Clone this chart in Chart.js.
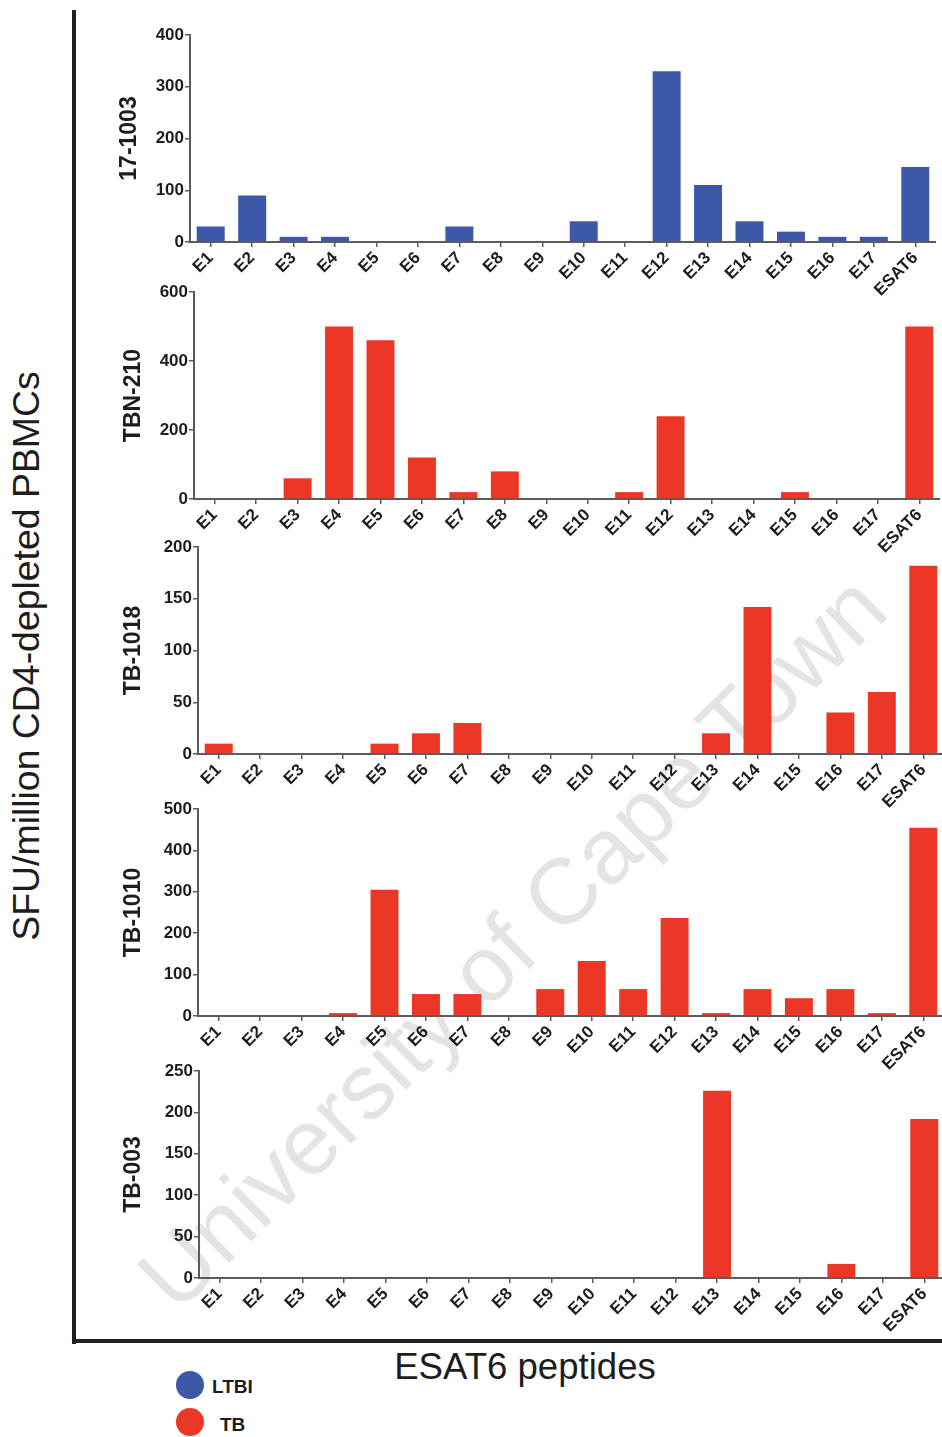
<!DOCTYPE html>
<html>
<head>
<meta charset="utf-8">
<script src="https://cdn.jsdelivr.net/npm/chart.js@4.4.1/dist/chart.umd.min.js"></script>
<style>
  html, body { margin:0; padding:0; width:942px; height:1437px; overflow:hidden; background:#ffffff; }
  body { position:relative; font-family:"Liberation Sans", Arial, Helvetica, sans-serif; color:#1e1c1d; }
  #wm { position:absolute; left:512px; top:942px; transform:translate(-50%,-50%) rotate(-44.4deg);
        font-size:93px; line-height:1; white-space:nowrap; color:#e4e4e4; font-weight:normal; }
  canvas.panel { position:absolute; }
  #frameV { position:absolute; left:72px; top:10px; width:4px; height:1334px; background:#231f20; }
  #frameH { position:absolute; left:72px; top:1339px; width:872px; height:4px; background:#231f20; }
  #ytitle { position:absolute; left:27px; top:656px; transform:translate(-50%,-50%) rotate(-90deg);
            font-size:37.4px; line-height:1; white-space:nowrap; }
  #xtitle { position:absolute; left:525px; top:1367px; transform:translate(-50%,-50%);
            font-size:36.6px; line-height:1; white-space:nowrap; }
  .dot { position:absolute; width:28px; height:28px; border-radius:50%; }
  .lg { position:absolute; font-size:19px; font-weight:bold; line-height:1; transform:translateY(-50%); }
</style>
</head>
<body>
<div id="wm">University of Cape Town</div>
<div id="frameV"></div>
<div id="frameH"></div>
<div id="ytitle">SFU/million CD4-depleted PBMCs</div>
<div id="xtitle">ESAT6 peptides</div>
<div class="dot" style="left:176px; top:1371px; background:#3e58a8;"></div>
<div class="lg" style="left:212px; top:1386px;">LTBI</div>
<div class="dot" style="left:176px; top:1408px; background:#ec3626;"></div>
<div class="lg" style="left:220px; top:1424px;">TB</div>

<canvas id="c0" class="panel"></canvas>
<canvas id="c1" class="panel"></canvas>
<canvas id="c2" class="panel"></canvas>
<canvas id="c3" class="panel"></canvas>
<canvas id="c4" class="panel"></canvas>

<script>
// ---- data ----
const categories = ['E1','E2','E3','E4','E5','E6','E7','E8','E9','E10','E11','E12','E13','E14','E15','E16','E17','ESAT6'];
const donors = ['17-1003','TBN-210','TB-1018','TB-1010','TB-003'];
const donorGroup = ['LTBI','TB','TB','TB','TB'];
const v17_1003 = [30, 90, 10, 10, 0, 0, 30, 0, 0, 40, 0, 330, 110, 40, 20, 10, 10, 145];
const vTBN_210 = [0, 0, 60, 500, 460, 120, 20, 80, 0, 0, 20, 240, 0, 0, 20, 0, 0, 500];
const vTB_1018 = [10, 0, 0, 0, 10, 20, 30, 0, 0, 0, 0, 0, 20, 142, 0, 40, 60, 182];
const vTB_1010 = [0, 0, 0, 7, 305, 53, 53, 0, 65, 133, 65, 237, 7, 65, 43, 65, 7, 455];
const vTB_003  = [0, 0, 0, 0, 0, 0, 0, 0, 0, 0, 0, 0, 226, 0, 0, 17, 0, 192];
const seriesValues = [v17_1003, vTBN_210, vTB_1018, vTB_1010, vTB_003];
const yMaxTicks = [400, 600, 200, 500, 250];
const yStepTicks = [100, 200, 50, 100, 50];

// ---- styles / layout (kept separate from data) ----
const groupColors = { LTBI: '#3e58a8', TB: '#ec3626' };
// plot area edges for each panel: [left, right, top, bottom]
const plotBoxes = [
  [190, 936, 35, 242],
  [194, 940, 292, 499],
  [198, 944, 547, 754],
  [198, 944, 809, 1016],
  [199, 945, 1071, 1278]
];
const titleCenters = [130, 134, 134, 134, 134];
const canvasLeft = 100, padTop = 14, xAxisH = 56;
const FONT = '"Liberation Sans", Arial, Helvetica, sans-serif';
const AXIS = '#5c5c5c', TXT = '#1e1c1d';

Chart.defaults.font.family = FONT;

donors.forEach((name, i) => {
  const [L, R, T, B] = plotBoxes[i];
  const cv = document.getElementById('c' + i);
  const W = R - canvasLeft;
  const H = padTop + (B - T) + xAxisH;
  cv.width = W; cv.height = H;
  cv.style.left = canvasLeft + 'px';
  cv.style.top = (T - padTop) + 'px';
  cv.style.width = W + 'px'; cv.style.height = H + 'px';
  const titleFont = { size: 23, weight: 'bold', family: FONT, lineHeight: 1.2 };
  const titlePad = titleCenters[i] - canvasLeft - 23 * 1.2 / 2;

  new Chart(cv, {
    type: 'bar',
    data: {
      labels: categories,
      datasets: [{
        label: name,
        data: seriesValues[i],
        backgroundColor: groupColors[donorGroup[i]],
        borderWidth: 0,
        barPercentage: 1.0,
        categoryPercentage: 0.675
      }]
    },
    options: {
      responsive: false,
      devicePixelRatio: 1,
      animation: false,
      events: [],
      layout: { padding: { top: padTop, left: 0, right: 0, bottom: 0 } },
      plugins: { legend: { display: false }, tooltip: { enabled: false } },
      scales: {
        x: {
          z: 1,
          grid: { display: true, drawOnChartArea: false, drawTicks: true, offset: false,
                  tickLength: 5, color: AXIS, lineWidth: 1.5 },
          border: { display: true, color: AXIS, width: 2 },
          ticks: { autoSkip: false, maxRotation: 45, minRotation: 45, padding: 1,
                   color: TXT, font: { size: 17, weight: 'bold', family: FONT } },
          afterFit: s => { s.height = xAxisH; }
        },
        y: {
          z: 1,
          min: 0, max: yMaxTicks[i],
          grid: { display: true, drawOnChartArea: false, drawTicks: true,
                  tickLength: 5, color: AXIS, lineWidth: 1.5 },
          border: { display: true, color: AXIS, width: 2 },
          ticks: { stepSize: yStepTicks[i], padding: 1, color: TXT,
                   font: { size: 17, weight: 'bold', family: FONT } },
          title: { display: true, text: name, color: TXT, font: titleFont,
                   padding: { top: titlePad, bottom: 0 } },
          afterFit: s => { s.width = L - canvasLeft; }
        }
      }
    }
  });
});
</script>
</body>
</html>
